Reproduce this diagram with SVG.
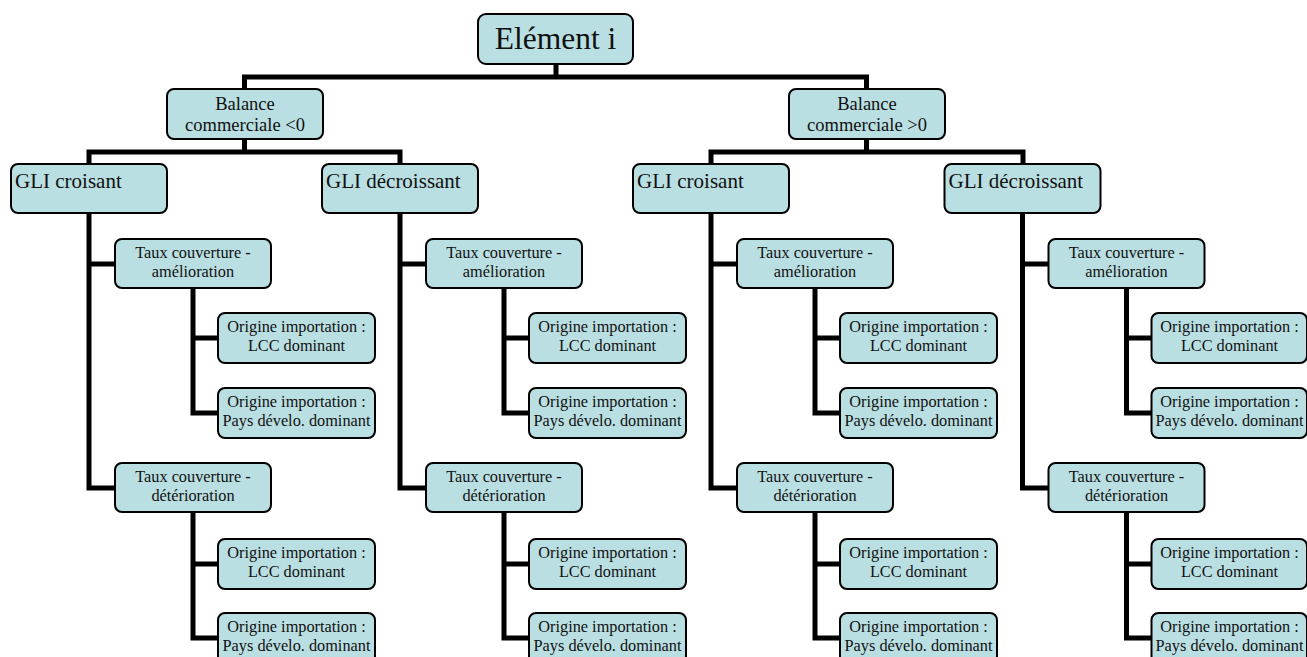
<svg xmlns="http://www.w3.org/2000/svg" width="1307" height="657" viewBox="0 0 1307 657">
<style>
.box{fill:#badfe2;stroke:#000;stroke-width:2}
text{font-family:"Liberation Serif","Times New Roman",serif;fill:#111}
.c{text-anchor:middle}
.s{font-size:16.3px}
.b{font-size:18.5px}
.g{font-size:21px}
.r{font-size:31.5px}
.ln{fill:none;stroke:#000;stroke-width:5;stroke-linejoin:miter;stroke-linecap:butt}
</style>
<defs>
<g id="branch">
<path class="ln" d="M89 213 V488 H115 M89 264 H115 M193 288 V413 H218 M193 338 H218 M193 512 V638 H218 M193 564 H218"/>
</g>
</defs>
<g id="connectors">
<path class="ln" d="M556 64 V77 M244.5 89 V77 H866.5 V89"/>
<path class="ln" d="M244.5 139 V152 M89 164 V152 H400 V164"/>
<path class="ln" d="M866.5 139 V152 M711 164 V152 H1023 V164"/>
<use href="#branch"/>
<use href="#branch" transform="translate(311,0)"/>
<use href="#branch" transform="translate(622,0)"/>
<use href="#branch" transform="translate(933.5,0)"/>
</g>
<g id="root"><rect class="box" x="478" y="14" width="155" height="50" rx="8"/><text class="r c" x="555.5" y="48.5">Elément i</text></g>
<g id="bal-neg"><rect class="box" x="167" y="89" width="156" height="50" rx="7"/><text class="b c" x="245" y="110">Balance</text><text class="b c" x="245" y="131">commerciale &lt;0</text></g>
<g id="bal-pos"><rect class="box" x="789" y="89" width="156" height="50" rx="7"/><text class="b c" x="867" y="110">Balance</text><text class="b c" x="867" y="131">commerciale &gt;0</text></g>

<g id="g1" transform="translate(0,0)">
<g id="g1-gli"><rect class="box" x="11" y="164" width="156" height="49" rx="7"/><text class="g" x="15" y="188">GLI croisant</text></g>
<g id="g1-tam"><rect class="box" x="115" y="239" width="156" height="49" rx="7"/><text class="s c" x="193" y="257.5">Taux couverture -</text><text class="s c" x="193" y="276.5">amélioration</text></g>
<g id="g1-tam-lcc"><rect class="box" x="218" y="313" width="157" height="50" rx="7"/><text class="s c" x="296.5" y="332">Origine importation :</text><text class="s c" x="296.5" y="351">LCC dominant</text></g>
<g id="g1-tam-pd"><rect class="box" x="218" y="388" width="157" height="50" rx="7"/><text class="s c" x="296.5" y="407">Origine importation :</text><text class="s c" x="296.5" y="426">Pays dévelo. dominant</text></g>
<g id="g1-tdet"><rect class="box" x="115" y="463" width="156" height="49" rx="7"/><text class="s c" x="193" y="481.5">Taux couverture -</text><text class="s c" x="193" y="500.5">détérioration</text></g>
<g id="g1-tdet-lcc"><rect class="box" x="218" y="539" width="157" height="50" rx="7"/><text class="s c" x="296.5" y="558">Origine importation :</text><text class="s c" x="296.5" y="577">LCC dominant</text></g>
<g id="g1-tdet-pd"><rect class="box" x="218" y="613" width="157" height="50" rx="7"/><text class="s c" x="296.5" y="632">Origine importation :</text><text class="s c" x="296.5" y="651">Pays dévelo. dominant</text></g>
</g>

<g id="g2" transform="translate(311,0)">
<g id="g2-gli"><rect class="box" x="11" y="164" width="156" height="49" rx="7"/><text class="g" x="15" y="188">GLI décroissant</text></g>
<g id="g2-tam"><rect class="box" x="115" y="239" width="156" height="49" rx="7"/><text class="s c" x="193" y="257.5">Taux couverture -</text><text class="s c" x="193" y="276.5">amélioration</text></g>
<g id="g2-tam-lcc"><rect class="box" x="218" y="313" width="157" height="50" rx="7"/><text class="s c" x="296.5" y="332">Origine importation :</text><text class="s c" x="296.5" y="351">LCC dominant</text></g>
<g id="g2-tam-pd"><rect class="box" x="218" y="388" width="157" height="50" rx="7"/><text class="s c" x="296.5" y="407">Origine importation :</text><text class="s c" x="296.5" y="426">Pays dévelo. dominant</text></g>
<g id="g2-tdet"><rect class="box" x="115" y="463" width="156" height="49" rx="7"/><text class="s c" x="193" y="481.5">Taux couverture -</text><text class="s c" x="193" y="500.5">détérioration</text></g>
<g id="g2-tdet-lcc"><rect class="box" x="218" y="539" width="157" height="50" rx="7"/><text class="s c" x="296.5" y="558">Origine importation :</text><text class="s c" x="296.5" y="577">LCC dominant</text></g>
<g id="g2-tdet-pd"><rect class="box" x="218" y="613" width="157" height="50" rx="7"/><text class="s c" x="296.5" y="632">Origine importation :</text><text class="s c" x="296.5" y="651">Pays dévelo. dominant</text></g>
</g>

<g id="g3" transform="translate(622,0)">
<g id="g3-gli"><rect class="box" x="11" y="164" width="156" height="49" rx="7"/><text class="g" x="15" y="188">GLI croisant</text></g>
<g id="g3-tam"><rect class="box" x="115" y="239" width="156" height="49" rx="7"/><text class="s c" x="193" y="257.5">Taux couverture -</text><text class="s c" x="193" y="276.5">amélioration</text></g>
<g id="g3-tam-lcc"><rect class="box" x="218" y="313" width="157" height="50" rx="7"/><text class="s c" x="296.5" y="332">Origine importation :</text><text class="s c" x="296.5" y="351">LCC dominant</text></g>
<g id="g3-tam-pd"><rect class="box" x="218" y="388" width="157" height="50" rx="7"/><text class="s c" x="296.5" y="407">Origine importation :</text><text class="s c" x="296.5" y="426">Pays dévelo. dominant</text></g>
<g id="g3-tdet"><rect class="box" x="115" y="463" width="156" height="49" rx="7"/><text class="s c" x="193" y="481.5">Taux couverture -</text><text class="s c" x="193" y="500.5">détérioration</text></g>
<g id="g3-tdet-lcc"><rect class="box" x="218" y="539" width="157" height="50" rx="7"/><text class="s c" x="296.5" y="558">Origine importation :</text><text class="s c" x="296.5" y="577">LCC dominant</text></g>
<g id="g3-tdet-pd"><rect class="box" x="218" y="613" width="157" height="50" rx="7"/><text class="s c" x="296.5" y="632">Origine importation :</text><text class="s c" x="296.5" y="651">Pays dévelo. dominant</text></g>
</g>

<g id="g4" transform="translate(933.5,0)">
<g id="g4-gli"><rect class="box" x="11" y="164" width="156" height="49" rx="7"/><text class="g" x="15" y="188">GLI décroissant</text></g>
<g id="g4-tam"><rect class="box" x="115" y="239" width="156" height="49" rx="7"/><text class="s c" x="193" y="257.5">Taux couverture -</text><text class="s c" x="193" y="276.5">amélioration</text></g>
<g id="g4-tam-lcc"><rect class="box" x="218" y="313" width="155.5" height="50" rx="7"/><text class="s c" x="296" y="332">Origine importation :</text><text class="s c" x="296" y="351">LCC dominant</text></g>
<g id="g4-tam-pd"><rect class="box" x="218" y="388" width="155.5" height="50" rx="7"/><text class="s c" x="296" y="407">Origine importation :</text><text class="s c" x="296" y="426">Pays dévelo. dominant</text></g>
<g id="g4-tdet"><rect class="box" x="115" y="463" width="156" height="49" rx="7"/><text class="s c" x="193" y="481.5">Taux couverture -</text><text class="s c" x="193" y="500.5">détérioration</text></g>
<g id="g4-tdet-lcc"><rect class="box" x="218" y="539" width="155.5" height="50" rx="7"/><text class="s c" x="296" y="558">Origine importation :</text><text class="s c" x="296" y="577">LCC dominant</text></g>
<g id="g4-tdet-pd"><rect class="box" x="218" y="613" width="155.5" height="50" rx="7"/><text class="s c" x="296" y="632">Origine importation :</text><text class="s c" x="296" y="651">Pays dévelo. dominant</text></g>
</g>
</svg>
